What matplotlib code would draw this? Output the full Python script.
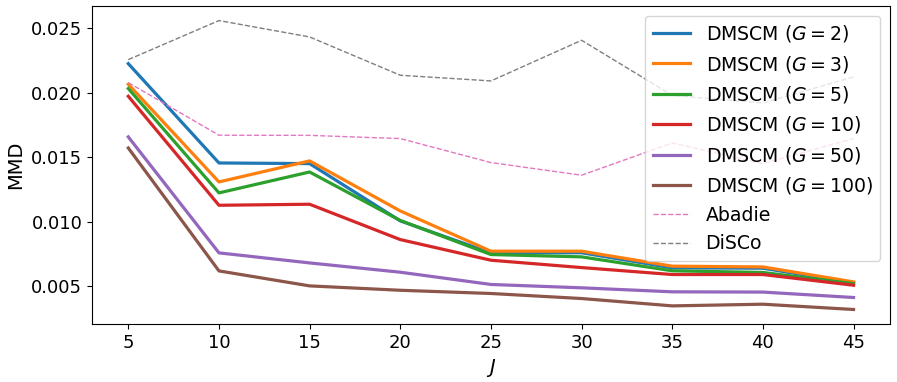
import numpy as np
import matplotlib.pyplot as plt

J = [5, 10, 15, 20, 25, 30, 35, 40, 45]
g2 = [0.02226, 0.01456, 0.01451, 0.01007, 0.00759, 0.00760, 0.00643, 0.00640, 0.00527]
g3 = [0.02066, 0.01309, 0.01472, 0.01084, 0.00772, 0.00772, 0.00656, 0.00650, 0.00534]
g5 = [0.02033, 0.01224, 0.01386, 0.01010, 0.00746, 0.00728, 0.00620, 0.00607, 0.00520]
g10 = [0.01973, 0.01128, 0.01136, 0.00862, 0.00702, 0.00645, 0.00591, 0.00591, 0.00508]
g50 = [0.01658, 0.00759, 0.00681, 0.00609, 0.00514, 0.00488, 0.00457, 0.00455, 0.00413]
g100 = [0.01572, 0.00619, 0.00503, 0.00469, 0.00444, 0.00405, 0.00348, 0.00361, 0.00320]
abadie = [0.02079, 0.01671, 0.01670, 0.01645, 0.01459, 0.01361, 0.01611, 0.01451, 0.01645]
disco = [0.02257, 0.02560, 0.02433, 0.02136, 0.02092, 0.02407, 0.01980, 0.01921, 0.02123]

G_vals = [2, 3, 5, 10, 50, 100]
series = [g2, g3, g5, g10, g50, g100]
colors = ["tab:blue", "tab:orange", "tab:green", "tab:red", "tab:purple", "tab:brown"]

fig = plt.figure(figsize=(8.97, 3.82), dpi=100)
ax = fig.add_axes([0.1026, 0.152, 0.8894, 0.832])

for g, y, c in zip(G_vals, series, colors):
    ax.plot(J, y, color=c, linewidth=2.3, label=r"DMSCM ($G=%d$)" % g)
ax.plot(J, abadie, "--", color="tab:pink", linewidth=1.0, label="Abadie")
ax.plot(J, disco, "--", color="tab:gray", linewidth=1.0, label="DiSCo")

ax.set_xticks(J)
ax.tick_params(labelsize=13)
ax.set_xlabel(r"$J$", fontsize=14)
ax.set_ylabel("MMD", fontsize=14)
ax.legend(loc="upper right", fontsize=13.6)

fig.savefig("out.png", dpi=100)
